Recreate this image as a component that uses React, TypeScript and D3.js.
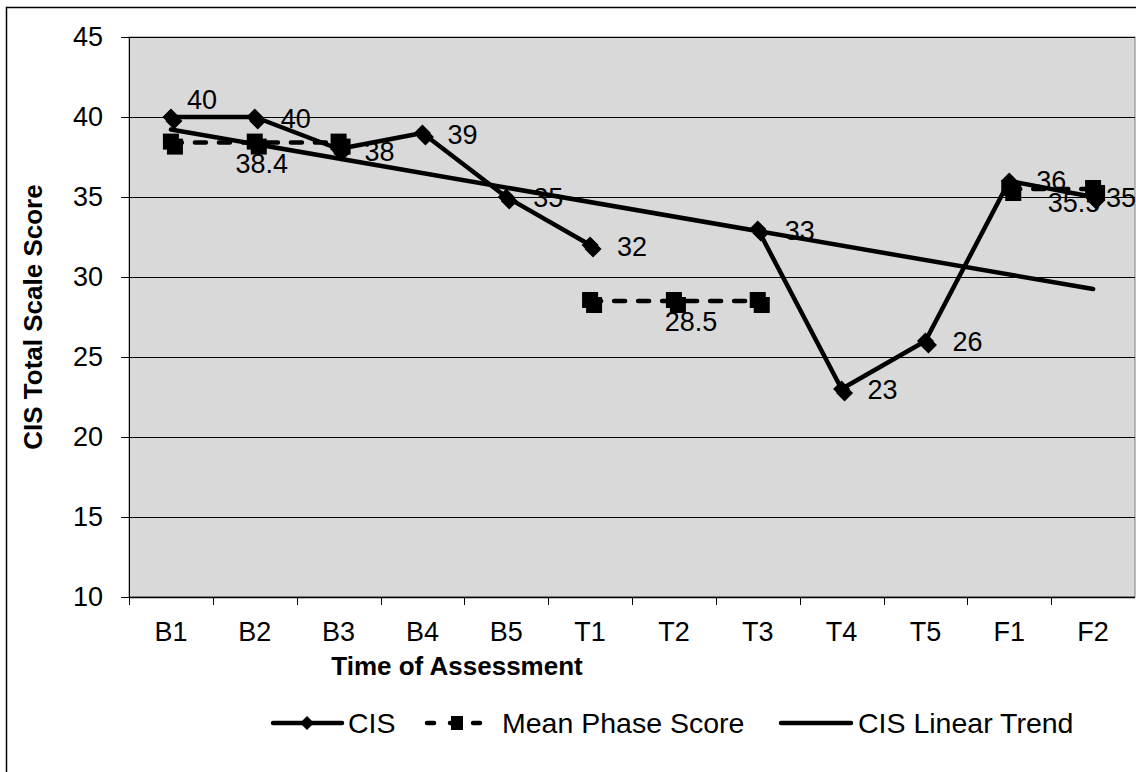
import React from "react";
import * as d3 from "d3";

const categories = ["B1", "B2", "B3", "B4", "B5", "T1", "T2", "T3", "T4", "T5", "F1", "F2"];
const cisValues: (number | null)[] = [40, 40, 38, 39, 35, 32, null, 33, 23, 26, 36, 35];
const meanPhaseValues: (number | null)[] = [38.4, 38.4, 38.4, null, null, 28.5, 28.5, 28.5, null, null, 35.5, 35.5];
const yTicks = [10, 15, 20, 25, 30, 35, 40, 45];
// label placement per point: [dx, dy] relative to point
const cisLabelOffsets: [number, number][] = [
  [16, -17], [26, 2], [26, 3], [25, 2], [27, 1], [27, 2], [0, 0], [27, 2], [26, 1], [27, 1], [27, 0], [13, 1],
];
const meanLabelIndex = [1, 6, 11];
const meanLabelOffsets: [number, number][] = [[7, 21], [17, 21], [-19, 14]];

const W = 1136, H = 772;
const L = 129, R = 1135, T = 37, B = 597;
const FONT = "'Liberation Sans', Arial, sans-serif";

function Diamond({ x, y, s = 8.5 }: { x: number; y: number; s?: number }) {
  const p = (cx: number, cy: number) => `M${cx},${cy - s}L${cx + s},${cy}L${cx},${cy + s}L${cx - s},${cy}Z`;
  return (
    <g fill="#000">
      <path d={p(x + 3, y + 4)} />
      <path d={p(x, y)} />
    </g>
  );
}
function Square({ x, y, s = 8 }: { x: number; y: number; s?: number }) {
  return (
    <g fill="#000">
      <rect x={x - s + 4} y={y - s + 4} width={2 * s} height={2 * s} />
      <rect x={x - s} y={y - s - 1} width={2 * s} height={2 * s} />
    </g>
  );
}

export default function App() {
  const x = d3.scaleBand<string>().domain(categories).range([L, R]).padding(0);
  const y = d3.scaleLinear().domain([10, 45]).range([B, T]);
  const cx = (i: number) => (x(categories[i]) as number) + x.bandwidth() / 2;

  const lineGen = d3
    .line<number | null>()
    .defined((d) => d != null)
    .x((_, i) => cx(i))
    .y((d) => y(d as number));

  // linear trend from CIS values (least squares, x = 1..12)
  const pts = cisValues.map((v, i) => ({ i: i + 1, v })).filter((p) => p.v != null) as { i: number; v: number }[];
  const mx = d3.mean(pts, (p) => p.i) as number;
  const my = d3.mean(pts, (p) => p.v) as number;
  const slope = d3.sum(pts, (p) => (p.i - mx) * (p.v - my)) / d3.sum(pts, (p) => (p.i - mx) ** 2);
  const icpt = my - slope * mx;
  const trendStart = icpt + slope * 1;
  const trendEnd = icpt + slope * categories.length;

  return (
    <svg width={W} height={H} style={{ position: "absolute", left: 0, top: 0, fontFamily: FONT }}>
      <rect x={0} y={0} width={W} height={H} fill="#fff" />
      <rect x={6.5} y={7.5} width={W + 20} height={H + 20} fill="none" stroke="#000" strokeWidth={1.5} />
      <rect x={L} y={T} width={R - L} height={B - T} fill="#d9d9d9" stroke="#808080" strokeWidth={1} />
      {yTicks.map((t) => (
        <g key={t}>
          {t !== 10 && <line x1={L} x2={R} y1={Math.round(y(t)) + 0.5} y2={Math.round(y(t)) + 0.5} stroke="#000" strokeWidth={1} />}
          <line x1={L - 8} x2={L} y1={Math.round(y(t)) + 0.5} y2={Math.round(y(t)) + 0.5} stroke="#000" strokeWidth={1} />
          <text x={103} y={y(t)} dy="0.35em" textAnchor="end" fontSize={27}>{t}</text>
        </g>
      ))}
      <line x1={L + 0.5} x2={L + 0.5} y1={T} y2={B} stroke="#000" strokeWidth={1} />
      <line x1={L} x2={R} y1={B + 0.5} y2={B + 0.5} stroke="#000" strokeWidth={1.5} />
      {categories.map((c, i) => (
        <g key={c}>
          <line x1={Math.round(x(c) as number) + 0.5} x2={Math.round(x(c) as number) + 0.5} y1={B} y2={B + 8} stroke="#000" strokeWidth={1} />
          <text x={cx(i)} y={632} dy="0.35em" textAnchor="middle" fontSize={27}>{c}</text>
        </g>
      ))}
      <text x={457} y={666} dy="0.35em" textAnchor="middle" fontSize={26} fontWeight="bold">Time of Assessment</text>
      <text transform={`translate(33,${(T + B) / 2}) rotate(-90)`} dy="0.35em" textAnchor="middle" fontSize={26} fontWeight="bold">CIS Total Scale Score</text>

      {/* trend */}
      <line x1={cx(0)} y1={y(trendStart)} x2={cx(categories.length - 1)} y2={y(trendEnd)} stroke="#000" strokeWidth={4.5} strokeLinecap="round" />
      {/* mean phase */}
      <path d={lineGen(meanPhaseValues) || ""} fill="none" stroke="#000" strokeWidth={4.5} strokeDasharray="11 13" strokeLinecap="round" />
      {meanPhaseValues.map((v, i) => (v != null ? <Square key={i} x={cx(i)} y={y(v)} /> : null))}
      {/* CIS */}
      <path d={lineGen(cisValues) || ""} fill="none" stroke="#000" strokeWidth={4.5} strokeLinejoin="round" />
      {cisValues.map((v, i) => (v != null ? <Diamond key={i} x={cx(i)} y={y(v)} /> : null))}

      {cisValues.map((v, i) =>
        v != null ? (
          <text key={i} x={cx(i) + cisLabelOffsets[i][0]} y={y(v) + cisLabelOffsets[i][1]} dy="0.35em" fontSize={27}>{v}</text>
        ) : null
      )}
      {meanLabelIndex.map((idx, k) => (
        <text key={idx} x={cx(idx) + meanLabelOffsets[k][0]} y={y(meanPhaseValues[idx] as number) + meanLabelOffsets[k][1]} dy="0.35em" textAnchor="middle" fontSize={27}>
          {meanPhaseValues[idx]}
        </text>
      ))}

      {/* legend */}
      <g>
        <line x1={273} x2={342} y1={723} y2={723} stroke="#000" strokeWidth={4.5} strokeLinecap="round" />
        <path d="M307,716L314,723L307,730L300,723Z" fill="#000" />
        <text x={348} y={723} dy="0.35em" fontSize={28.5}>CIS</text>
        <line x1={427} x2={490} y1={723} y2={723} stroke="#000" strokeWidth={4.5} strokeDasharray="7 16" strokeLinecap="round" />
        <rect x={451} y={716} width={12} height={14} fill="#000" />
        <text x={502} y={723} dy="0.35em" fontSize={28.5}>Mean Phase Score</text>
        <line x1={781} x2={851} y1={723} y2={723} stroke="#000" strokeWidth={4.5} strokeLinecap="round" />
        <text x={858} y={723} dy="0.35em" fontSize={28.5}>CIS Linear Trend</text>
      </g>
    </svg>
  );
}
